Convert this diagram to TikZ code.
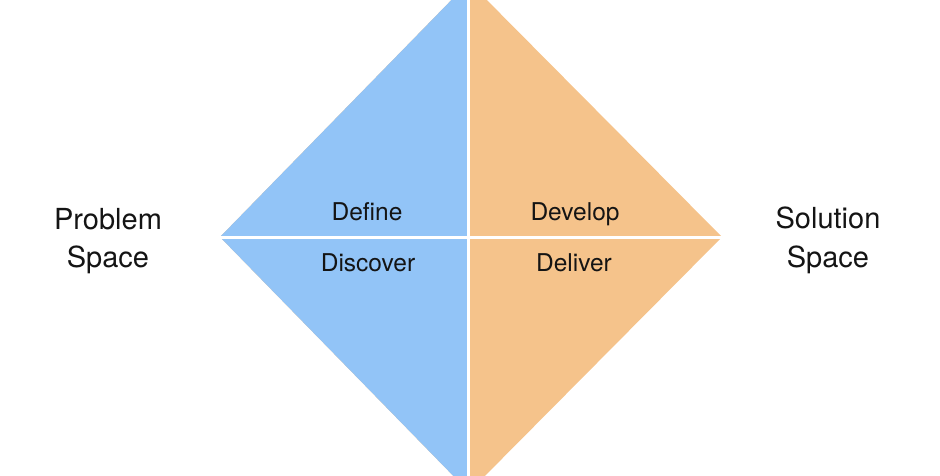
\documentclass[tikz,border=0pt]{standalone}
\usepackage{fontspec}
\setmainfont{TeX Gyre Heros}
\definecolor{qblue}{RGB}{146,196,247}
\definecolor{qorange}{RGB}{245,195,139}
\definecolor{txt}{RGB}{20,20,20}
\begin{document}
\begin{tikzpicture}[x=1pt,y=-1pt,
  quadlabel/.style={font=\fontsize{24.5}{29}\selectfont, text=txt, anchor=base, inner sep=0pt},
  sidelabel/.style={font=\fontsize{29}{38.5}\selectfont, text=txt, align=center, anchor=base, inner sep=0pt},
  divider/.style={draw=white, line width=3pt}]
\useasboundingbox (0,0) rectangle (940,475);
\clip (0,0) rectangle (940,475);
\coordinate (T) at (469,-18);
\coordinate (B) at (469,492);
\coordinate (L) at (220,237);
\coordinate (R) at (722,237);
\coordinate (VT) at (468,-20);
\coordinate (VB) at (468,495);
% diamond
\fill[qorange] (T) -- (R) -- (B) -- (L) -- cycle;
\begin{scope}
  \clip (0,-30) rectangle (468,500);
  \fill[qblue] (T) -- (R) -- (B) -- (L) -- cycle;
\end{scope}
% dividers
\draw[divider] (VT) -- (VB);
\draw[divider] (L) -- (R);
% labels
\node[quadlabel] (define) at (367,220) {Define};
\node[quadlabel] (discover) at (368,271) {Discover};
\node[quadlabel] (develop) at (575,220) {Develop};
\node[quadlabel] (deliver) at (574,271) {Deliver};
\node[sidelabel] (problem) at (108,267.5) {Problem\\Space};
\node[sidelabel] (solution) at (828,267) {Solution\\Space};
\end{tikzpicture}
\end{document}
